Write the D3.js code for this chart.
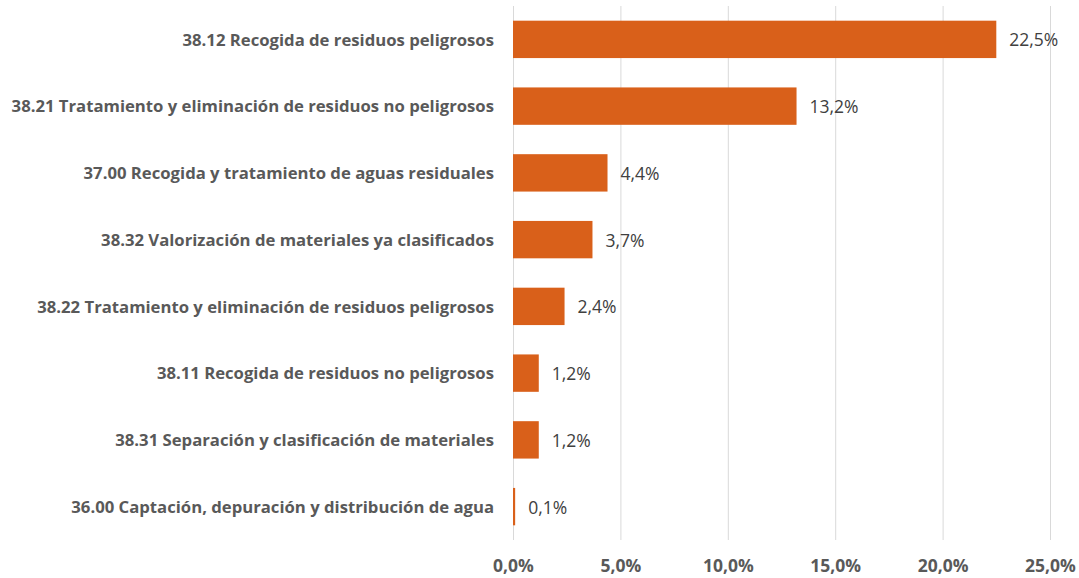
<!DOCTYPE html>
<html>
<head>
<meta charset="utf-8">
<script src="https://cdn.jsdelivr.net/npm/d3@7"></script>
<style>
  body { margin: 0; background: #fff; }
  text { font-family: "Open Sans", sans-serif; }
</style>
</head>
<body>
<div id="container"></div>
<script>
/* DATA */
const categories = [
  "38.12 Recogida de residuos peligrosos",
  "38.21 Tratamiento y eliminación de residuos no peligrosos",
  "37.00 Recogida y tratamiento de aguas residuales",
  "38.32 Valorización de materiales ya clasificados",
  "38.22 Tratamiento y eliminación de residuos peligrosos",
  "38.11 Recogida de residuos no peligrosos",
  "38.31 Separación y clasificación de materiales",
  "36.00 Captación, depuración y distribución de agua"
];
const values = [22.5, 13.2, 4.4, 3.7, 2.4, 1.2, 1.2, 0.1];
const ticks = [0, 5, 10, 15, 20, 25];

/* CONSTANTS */
const width = 1079;
const height = 578;
const fmt = v => d3.format(".1f")(v).replace(".", ",") + "%";

const data = categories.map((c, i) => ({ cat: c, val: values[i] }));

/* SCALES */
const xScale = d3.scaleLinear()
  .domain([0, 25])
  .range([513, 1050]);

const yScale = d3.scaleBand()
  .domain(categories)
  .range([6, 540])
  .paddingInner(0.44)
  .paddingOuter(0.22);

const svg = d3.select("#container")
  .append("svg")
  .attr("width", width)
  .attr("height", height);

// gridlines
svg.append("g")
  .selectAll("line")
  .data(ticks)
  .join("line")
  .attr("x1", d => xScale(d) + 0.5)
  .attr("x2", d => xScale(d) + 0.5)
  .attr("y1", 6)
  .attr("y2", 540)
  .attr("stroke", "#d9d9d9")
  .attr("stroke-width", 1);

// x axis labels
const xAxis = d3.axisBottom(xScale)
  .tickValues(ticks)
  .tickFormat(fmt)
  .tickSize(0)
  .tickPadding(0);

const gx = svg.append("g")
  .attr("transform", "translate(0,560)")
  .call(xAxis);
gx.select(".domain").remove();
gx.selectAll("text")
  .attr("dy", "0.71em")
  .attr("y", 0)
  .attr("font-size", 17.5)
  .attr("font-weight", "bold")
  .attr("fill", "#595959")
  .style("font-family", "'Open Sans', sans-serif");

// y axis labels
const yAxis = d3.axisLeft(yScale).tickSize(0).tickPadding(0);
const gy = svg.append("g")
  .attr("transform", "translate(494,0)")
  .call(yAxis);
gy.select(".domain").remove();
gy.selectAll("text")
  .attr("dy", "0.38em")
  .attr("font-size", 16.7)
  .attr("font-weight", "bold")
  .attr("fill", "#595959")
  .style("font-family", "'Open Sans', sans-serif");

// bars
svg.selectAll("rect.bar")
  .data(data)
  .join("rect")
  .attr("class", "bar")
  .attr("x", xScale(0))
  .attr("y", d => yScale(d.cat))
  .attr("width", d => xScale(d.val) - xScale(0))
  .attr("height", yScale.bandwidth())
  .attr("fill", "#d9601a");

// value labels
svg.selectAll("text.val")
  .data(data)
  .join("text")
  .attr("class", "val")
  .attr("x", d => xScale(d.val) + 13)
  .attr("y", d => yScale(d.cat) + yScale.bandwidth() / 2)
  .attr("dy", "0.4em")
  .attr("font-size", 17.5)
  .attr("fill", "#404040")
  .text(d => fmt(d.val));
</script>
</body>
</html>
